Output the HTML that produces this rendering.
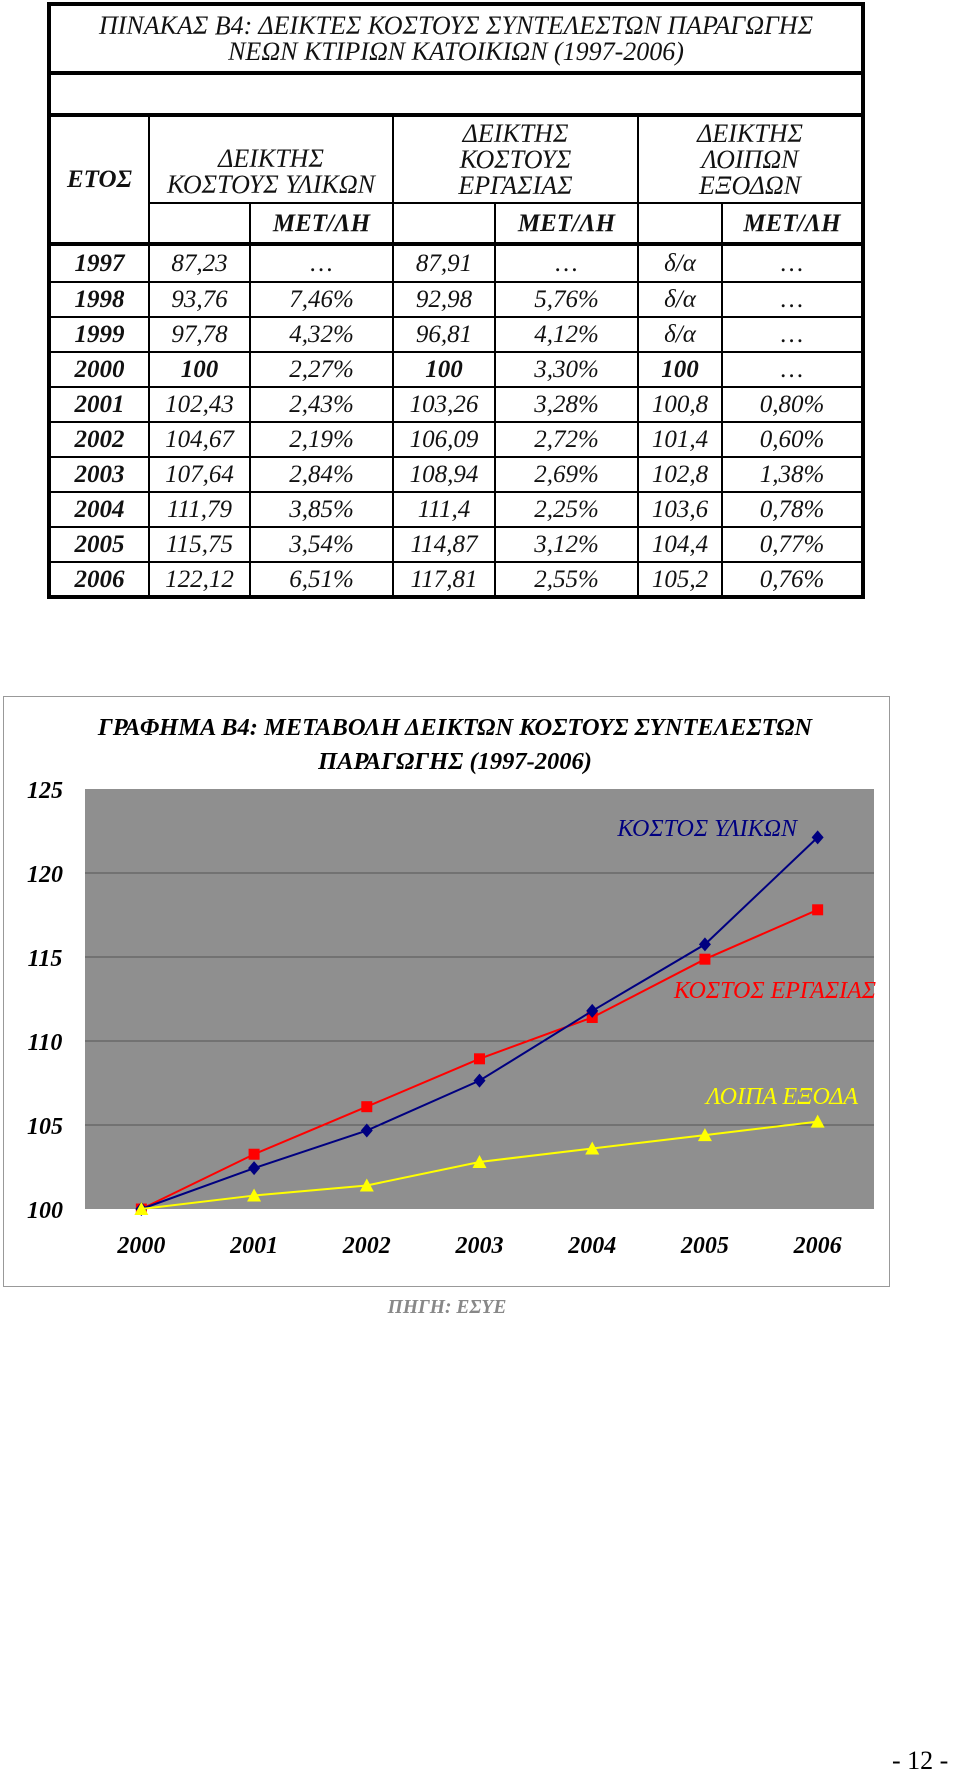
<!DOCTYPE html>
<html><head><meta charset="utf-8">
<style>
html,body{margin:0;padding:0;background:#fff;}
body{width:960px;height:1783px;position:relative;overflow:hidden;font-family:"Liberation Serif","DejaVu Serif",serif;}
table.t{position:absolute;left:47px;top:2px;width:814px;border-collapse:collapse;table-layout:fixed;font-style:italic;font-size:25px;color:#111;}
table.t td{border:2px solid #000;text-align:center;padding:0;line-height:27px;white-space:nowrap;}
table.t{border:4px solid #000;}
.hd{font-size:26px;line-height:26px !important;}
.b{font-weight:bold;}
.thick{border-bottom:4px solid #000 !important;}
#src{position:absolute;left:347px;top:1297px;width:200px;text-align:center;font-style:italic;font-weight:bold;font-size:19.5px;color:#888;}
#pg{position:absolute;left:892px;top:1746px;font-size:26px;}
</style></head><body>
<table class="t">
<colgroup><col style="width:100px"><col style="width:101px"><col style="width:143px"><col style="width:102px"><col style="width:143px"><col style="width:84px"><col style="width:141px"></colgroup>
<tr style="height:69px"><td colspan="7" class="thick hd">ΠΙΝΑΚΑΣ Β4: ΔΕΙΚΤΕΣ ΚΟΣΤΟΥΣ ΣΥΝΤΕΛΕΣΤΩΝ ΠΑΡΑΓΩΓΗΣ<br>ΝΕΩΝ ΚΤΙΡΙΩΝ ΚΑΤΟΙΚΙΩΝ (1997-2006)</td></tr>
<tr style="height:42px"><td colspan="7" class="thick"></td></tr>
<tr style="height:88px"><td rowspan="2" class="b thick">ΕΤΟΣ</td>
<td colspan="2" class="hd" style="vertical-align:bottom;padding-bottom:4px">ΔΕΙΚΤΗΣ<br>ΚΟΣΤΟΥΣ ΥΛΙΚΩΝ</td>
<td colspan="2" class="hd">ΔΕΙΚΤΗΣ<br>ΚΟΣΤΟΥΣ<br>ΕΡΓΑΣΙΑΣ</td>
<td colspan="2" class="hd">ΔΕΙΚΤΗΣ<br>ΛΟΙΠΩΝ<br>ΕΞΟΔΩΝ</td></tr>
<tr style="height:41px"><td class="thick"></td><td class="b thick">ΜΕΤ/ΛΗ</td><td class="thick"></td><td class="b thick">ΜΕΤ/ΛΗ</td><td class="thick"></td><td class="b thick">ΜΕΤ/ΛΗ</td></tr>
<tr style="height:38px"><td class="b">1997</td><td>87,23</td><td>…</td><td>87,91</td><td>…</td><td>δ/α</td><td>…</td></tr>
<tr style="height:35px"><td class="b">1998</td><td>93,76</td><td>7,46%</td><td>92,98</td><td>5,76%</td><td>δ/α</td><td>…</td></tr>
<tr style="height:35px"><td class="b">1999</td><td>97,78</td><td>4,32%</td><td>96,81</td><td>4,12%</td><td>δ/α</td><td>…</td></tr>
<tr style="height:35px"><td class="b">2000</td><td class="b">100</td><td>2,27%</td><td class="b">100</td><td>3,30%</td><td class="b">100</td><td>…</td></tr>
<tr style="height:35px"><td class="b">2001</td><td>102,43</td><td>2,43%</td><td>103,26</td><td>3,28%</td><td>100,8</td><td>0,80%</td></tr>
<tr style="height:35px"><td class="b">2002</td><td>104,67</td><td>2,19%</td><td>106,09</td><td>2,72%</td><td>101,4</td><td>0,60%</td></tr>
<tr style="height:35px"><td class="b">2003</td><td>107,64</td><td>2,84%</td><td>108,94</td><td>2,69%</td><td>102,8</td><td>1,38%</td></tr>
<tr style="height:35px"><td class="b">2004</td><td>111,79</td><td>3,85%</td><td>111,4</td><td>2,25%</td><td>103,6</td><td>0,78%</td></tr>
<tr style="height:35px"><td class="b">2005</td><td>115,75</td><td>3,54%</td><td>114,87</td><td>3,12%</td><td>104,4</td><td>0,77%</td></tr>
<tr style="height:35px"><td class="b">2006</td><td>122,12</td><td>6,51%</td><td>117,81</td><td>2,55%</td><td>105,2</td><td>0,76%</td></tr>
</table>

<svg id="chart" style="position:absolute;left:0;top:690px" width="900" height="600" font-family="Liberation Serif, DejaVu Serif, serif"></svg>
<div id="src">ΠΗΓΗ: ΕΣΥΕ</div>
<div id="pg">- 12 -</div>

<script>
const years=["2000","2001","2002","2003","2004","2005","2006"];
const materials=[100,102.43,104.67,107.64,111.79,115.75,122.12];
const labour=[100,103.26,106.09,108.94,111.4,114.87,117.81];
const other=[100,100.8,101.4,102.8,103.6,104.4,105.2];
const yTicks=[100,105,110,115,120,125];
const NS="http://www.w3.org/2000/svg";
const svg=document.getElementById('chart');
const L=85,R=874,T=99,B=519,yMin=100,yMax=125;
const x=i=>L+(R-L)/years.length*(i+0.5);
const y=v=>B-(v-yMin)/(yMax-yMin)*(B-T);
function mk(tag,attrs,parent){const e=document.createElementNS(NS,tag);for(const k in attrs)e.setAttribute(k,attrs[k]);(parent||svg).appendChild(e);return e;}
const frame=mk('rect',{x:3.5,y:6.5,width:886,height:590,fill:'#fff',stroke:'#999','stroke-width':1});


const plot=mk('rect',{x:L,y:T,width:R-L,height:B-T,fill:'#8f8f8f'});


const t1=mk('text',{x:455,y:45,'text-anchor':'middle','font-size':24.5,'font-style':'italic','font-weight':'bold'});
t1.textContent='ΓΡΑΦΗΜΑ Β4: ΜΕΤΑΒΟΛΗ ΔΕΙΚΤΩΝ ΚΟΣΤΟΥΣ ΣΥΝΤΕΛΕΣΤΩΝ';


const t2=mk('text',{x:455,y:79,'text-anchor':'middle','font-size':24.5,'font-style':'italic','font-weight':'bold'});
t2.textContent='ΠΑΡΑΓΩΓΗΣ (1997-2006)';


yTicks.forEach(v=>{
  if(v>yMin&&v<yMax){const g=mk('line',{x1:L,x2:R,y1:y(v),y2:y(v),stroke:'#555','stroke-width':1});
  
  }
  const t=mk('text',{x:45,y:y(v)+9,'text-anchor':'middle','font-size':24,'font-style':'italic','font-weight':'bold'});
  t.textContent=v;
  
  
});
years.forEach((yr,i)=>{
  const t=mk('text',{x:x(i),y:563,'text-anchor':'middle','font-size':24,'font-style':'italic','font-weight':'bold'});
  t.textContent=yr;
  
  
});
function series(data,color,shape,name){
  const pl=mk('polyline',{points:data.map((v,i)=>x(i)+','+y(v)).join(' '),fill:'none',stroke:color,'stroke-width':2});
  
  
  data.forEach((v,i)=>{
    const cx=x(i),cy=y(v);let m;
    if(shape==='diamond')m=mk('polygon',{points:`${cx},${cy-7} ${cx+6},${cy} ${cx},${cy+7} ${cx-6},${cy}`,fill:color});
    else if(shape==='square')m=mk('rect',{x:cx-5.5,y:cy-5.5,width:11,height:11,fill:color});
    else m=mk('polygon',{points:`${cx},${cy-7} ${cx+7},${cy+6} ${cx-7},${cy+6}`,fill:color});
    
    
  });
}
series(labour,'#ff0000','square','labour');
series(materials,'#000080','diamond','materials');
series(other,'#ffff00','triangle','other');
function lab(txt,xx,yy,color,name){const t=mk('text',{x:xx,y:yy,'text-anchor':'end','font-size':24,'font-style':'italic',fill:color});t.textContent=txt;

}
lab('ΚΟΣΤΟΣ ΥΛΙΚΩΝ',797,146,'#000080','materials-label');
lab('ΚΟΣΤΟΣ ΕΡΓΑΣΙΑΣ',876,308,'#ff0000','labour-label');
lab('ΛΟΙΠΑ ΕΞΟΔΑ',858,414,'#ffff00','other-label');
</script>
</body></html>
